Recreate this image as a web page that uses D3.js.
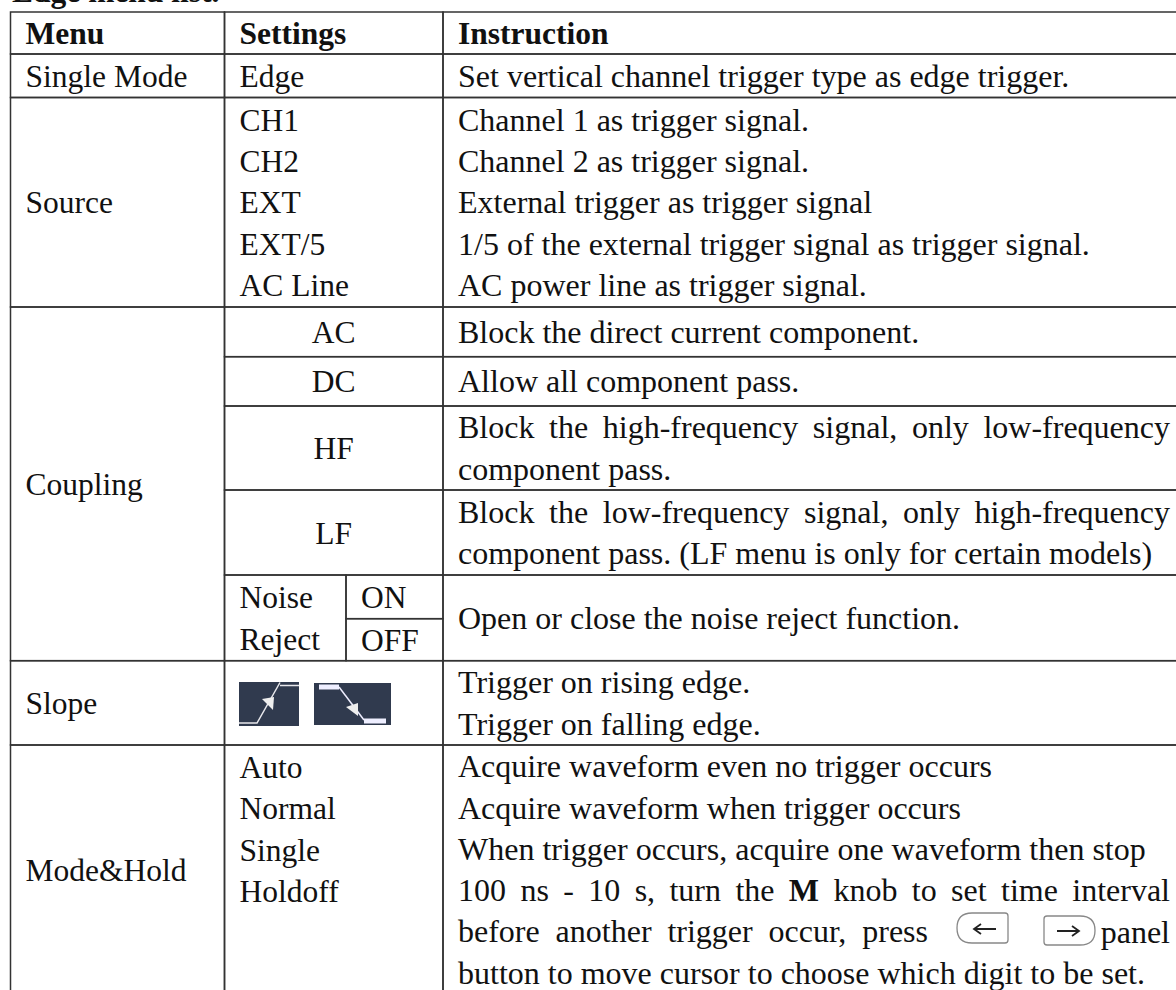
<!DOCTYPE html>
<html>
<head>
<meta charset="utf-8">
<script src="https://cdnjs.cloudflare.com/ajax/libs/d3/7.8.5/d3.min.js"></script>
<style>
html, body { margin: 0; padding: 0; background: #fff; overflow: hidden; }
text { font-family: "Liberation Serif", serif; font-size: 31.5px; fill: #111; }
text.note { font-size: 32px; }
</style>
</head>
<body>
<svg id="page" width="1176" height="990"></svg>
<script>
// table contents
var caption = 'Edge menu list.';
var headers = ['Menu', 'Settings', 'Instruction'];
var menus = ['Single Mode', 'Source', 'Coupling', 'Slope', 'Mode&Hold'];
var sourceSettings = ['CH1', 'CH2', 'EXT', 'EXT/5', 'AC Line'];
var couplingSettings = ['AC', 'DC', 'HF', 'LF'];
var noiseSettings = ['Noise', 'Reject'];
var noiseStates = ['ON', 'OFF'];
var modeSettings = ['Auto', 'Normal', 'Single', 'Holdoff'];
var sourceNotes = [
  'Channel 1 as trigger signal.',
  'Channel 2 as trigger signal.',
  'External trigger as trigger signal',
  '1/5 of the external trigger signal as trigger signal.',
  'AC power line as trigger signal.'
];
var couplingNotes = [
  ['Block the direct current component.'],
  ['Allow all component pass.'],
  ['Block the high-frequency signal, only low-frequency', 'component pass.'],
  ['Block the low-frequency signal, only high-frequency', 'component pass. (LF menu is only for certain models)']
];
var noiseNote = 'Open or close the noise reject function.';
var slopeNotes = ['Trigger on rising edge.', 'Trigger on falling edge.'];
var modeNotes = [
  'Acquire waveform even no trigger occurs',
  'Acquire waveform when trigger occurs',
  'When trigger occurs, acquire one waveform then stop',
  '100 ns - 10 s, turn the M knob to set time interval',
  'before another trigger occur, press',
  'button to move cursor to choose which digit to be set.'
];
var edgeSetting = 'Edge';
var edgeNote = 'Set vertical channel trigger type as edge trigger.';
var panelWord = 'panel';

// layout
var rowNames = ['head', 'single', 'source', 'ac', 'dc', 'hf', 'lf', 'on', 'off', 'slope', 'mode', 'end'];
var rowEdges = [12, 54, 97.5, 307, 356.7, 406, 490, 575, 618.7, 660.7, 745, 994];
var colNames = ['menu', 'settings', 'state', 'note', 'end'];
var colEdges = [10.5, 224.5, 346, 443, 1190];
var rightEdge = 1170, lineStep = 41.3, baseShift = 11, pad = 15;

var y = d3.scaleOrdinal().domain(rowNames).range(rowEdges);
var x = d3.scaleOrdinal().domain(colNames).range(colEdges);

function cell(c0, c1, r0, r1, lines, opts) {
  return Object.assign({c0: c0, c1: c1, r0: r0, r1: r1, lines: [].concat(lines)}, opts || {});
}

var cells = [
  cell('menu', 'settings', 'head', 'single', headers[0], {bold: true}),
  cell('settings', 'note', 'head', 'single', headers[1], {bold: true}),
  cell('note', 'end', 'head', 'single', headers[2], {bold: true}),
  cell('menu', 'settings', 'single', 'source', menus[0]),
  cell('settings', 'note', 'single', 'source', edgeSetting),
  cell('note', 'end', 'single', 'source', edgeNote),
  cell('menu', 'settings', 'source', 'ac', menus[1]),
  cell('settings', 'note', 'source', 'ac', sourceSettings),
  cell('note', 'end', 'source', 'ac', sourceNotes),
  cell('menu', 'settings', 'ac', 'slope', menus[2]),
  cell('settings', 'note', 'ac', 'dc', couplingSettings[0], {center: true}),
  cell('settings', 'note', 'dc', 'hf', couplingSettings[1], {center: true}),
  cell('settings', 'note', 'hf', 'lf', couplingSettings[2], {center: true}),
  cell('settings', 'note', 'lf', 'on', couplingSettings[3], {center: true}),
  cell('note', 'end', 'ac', 'dc', couplingNotes[0]),
  cell('note', 'end', 'dc', 'hf', couplingNotes[1]),
  cell('note', 'end', 'hf', 'lf', couplingNotes[2], {ends: {0: rightEdge}}),
  cell('note', 'end', 'lf', 'on', couplingNotes[3], {ends: {0: rightEdge}}),
  cell('settings', 'state', 'on', 'slope', noiseSettings),
  cell('state', 'note', 'on', 'off', noiseStates[0]),
  cell('state', 'note', 'off', 'slope', noiseStates[1]),
  cell('note', 'end', 'on', 'slope', noiseNote),
  cell('menu', 'settings', 'slope', 'mode', menus[3]),
  cell('settings', 'note', 'slope', 'mode', []),
  cell('note', 'end', 'slope', 'mode', slopeNotes),
  cell('menu', 'settings', 'mode', 'end', menus[4]),
  cell('settings', 'note', 'mode', 'end', modeSettings, {top: true}),
  cell('note', 'end', 'mode', 'end', modeNotes, {ends: {3: rightEdge, 4: 928}})
];

var svg = d3.select('#page');

svg.append('text')
  .attr('x', 12).attr('y', 2)
  .style('font-weight', 'bold')
  .text(caption);

svg.selectAll('rect.cell')
  .data(cells)
  .enter().append('rect')
  .attr('class', 'cell')
  .attr('x', function(d) { return x(d.c0); })
  .attr('y', function(d) { return y(d.r0); })
  .attr('width', function(d) { return x(d.c1) - x(d.c0); })
  .attr('height', function(d) { return y(d.r1) - y(d.r0); })
  .attr('fill', 'none')
  .attr('stroke', '#333')
  .attr('stroke-width', 1.5);

cells.forEach(function(d) {
  var mid = (y(d.r0) + y(d.r1)) / 2;
  d.lines.forEach(function(line, i) {
    var by = d.top ? y(d.r0) + 33 + i * lineStep
                   : mid + baseShift + (i - (d.lines.length - 1) / 2) * lineStep;
    var t = svg.append('text').attr('y', by);
    if (d.center) t.attr('x', (x(d.c0) + x(d.c1)) / 2).attr('text-anchor', 'middle');
    else t.attr('x', x(d.c0) + pad);
    if (d.bold) t.style('font-weight', 'bold');
    if (d.c0 == 'note' && !d.bold) t.attr('class', 'note');

    // the bold M in the holdoff line
    var parts = line.split(' M ');
    if (parts.length == 2) {
      t.append('tspan').text(parts[0] + ' ');
      t.append('tspan').style('font-weight', 'bold').text('M');
      t.append('tspan').text(' ' + parts[1]);
    } else {
      t.text(line);
    }

    if (d.ends && d.ends[i]) {
      var gaps = line.split(' ').length - 1;
      var extra = (d.ends[i] - x(d.c0) - pad - t.node().getComputedTextLength()) / gaps;
      t.style('word-spacing', extra + 'px');
    }
  });
});

// slope icons
var iconColor = '#303a4e';
var rising = svg.append('g');
rising.append('rect').attr('x', 239).attr('y', 682).attr('width', 60).attr('height', 44).attr('fill', iconColor);
rising.append('path').attr('d', 'M239 723H257L280 682.5M280 685.5H299')
  .attr('fill', 'none').attr('stroke', '#e8e8ec').attr('stroke-width', 1.5);
rising.append('path').attr('d', 'M262 699L274 697L273 710Z').attr('fill', '#eee');

var falling = svg.append('g');
falling.append('rect').attr('x', 314).attr('y', 683).attr('width', 77).attr('height', 42).attr('fill', iconColor);
falling.append('path').attr('d', 'M319 687H339').attr('stroke', '#eef').attr('stroke-width', 5);
falling.append('path').attr('d', 'M339 687L364 720').attr('stroke', '#eef').attr('stroke-width', 1.5);
falling.append('path').attr('d', 'M364 721H386').attr('stroke', '#eef').attr('stroke-width', 5);
falling.append('path').attr('d', 'M346 707L358 703L358 716Z').attr('fill', '#eee');

// panel buttons
svg.append('text').attr('class', 'note').attr('x', rightEdge).attr('y', 943).attr('text-anchor', 'end').text(panelWord);

var btnStyle = function(p) {
  return p.attr('fill', '#fff').attr('stroke', '#888').attr('stroke-width', 1.3);
};
btnStyle(svg.append('path').attr('d', 'M972 913H1005Q1008 913 1008 916V940Q1008 943 1005 943H972Q957 943 957 928Q957 913 972 913Z'));
btnStyle(svg.append('path').attr('d', 'M1047 916H1080Q1095 916 1095 930.5Q1095 945 1080 945H1047Q1044 945 1044 942V919Q1044 916 1047 916Z'));
svg.append('path').attr('d', 'M974 929H996M981 924L974 929L981 934').attr('fill', 'none').attr('stroke', '#222').attr('stroke-width', 1.8);
svg.append('path').attr('d', 'M1057 931H1079M1072 926L1079 931L1072 936').attr('fill', 'none').attr('stroke', '#222').attr('stroke-width', 1.8);
</script>
</body>
</html>
